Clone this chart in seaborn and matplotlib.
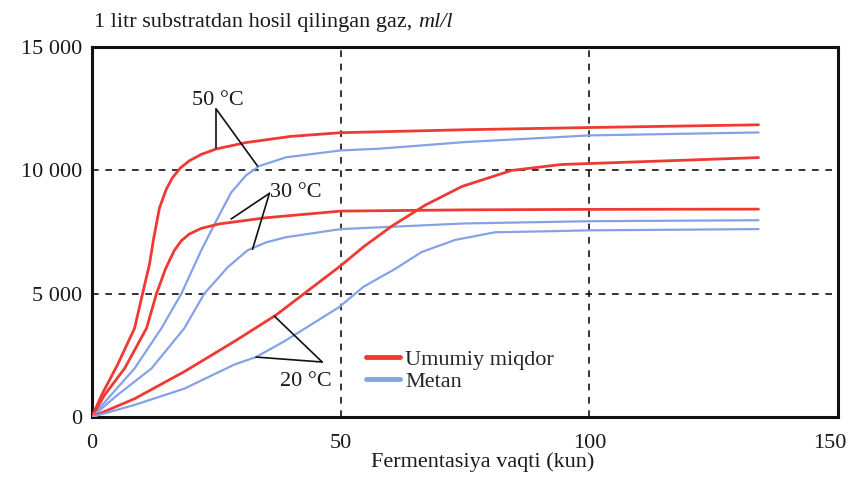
import matplotlib
matplotlib.use("Agg")
import matplotlib.pyplot as plt
from matplotlib.lines import Line2D
from matplotlib.transforms import ScaledTranslation
import seaborn as sns
import pandas as pd

# Gas yield per litre of substrate (ml/l) versus fermentation time (days)
days_50_total = [0, 2, 5.2, 8.6, 10.2, 11.6, 12.4, 13.6, 15, 16.2, 17.8, 19.6, 22, 25, 31, 40, 50, 75, 100, 134]
gas_50_total = [0, 900, 2130, 3600, 5000, 6200, 7200, 8480, 9250, 9700, 10100, 10390, 10650, 10870, 11130, 11380, 11530, 11650, 11740, 11850]

days_50_methane = [0, 3.2, 8.6, 14, 18, 22, 25, 28, 31, 33.7, 39, 50, 57.7, 75, 100, 134]
gas_50_methane = [0, 740, 1970, 3600, 5000, 6760, 7950, 9100, 9800, 10180, 10530, 10810, 10880, 11150, 11420, 11540]

days_30_total = [0, 2.6, 6.6, 11, 13, 14.8, 16.6, 18, 19.6, 22, 25.6, 35, 50, 75, 100, 134]
gas_30_total = [0, 900, 1970, 3600, 5000, 6000, 6760, 7150, 7420, 7650, 7830, 8080, 8350, 8400, 8420, 8430]

days_30_methane = [0, 5.2, 12, 18.6, 22.6, 27.3, 31.3, 35, 39, 50, 75, 100, 134]
gas_30_methane = [0, 900, 1970, 3600, 5000, 6070, 6760, 7080, 7290, 7620, 7850, 7940, 7980]

days_20_total = [0, 8.6, 18.6, 28.7, 37, 50, 54.6, 60.3, 67, 74.4, 84.4, 94.4, 100, 134]
gas_20_total = [0, 740, 1840, 3070, 4130, 6130, 6900, 7740, 8590, 9350, 10000, 10240, 10280, 10520]

days_20_methane = [0, 8.6, 18.6, 28.7, 33, 38.7, 49.6, 54.6, 61, 66.3, 73, 81, 91, 100, 134]
gas_20_methane = [0, 490, 1150, 2130, 2430, 3070, 4440, 5280, 6010, 6690, 7180, 7490, 7530, 7570, 7620]

x_ticks = [0, 50, 100, 150]
y_ticks = [0, 5000, 10000, 15000]
y_tick_labels = ["0", "5 000", "10 000", "15 000"]
legend_labels = ["Umumiy miqdor", "Metan"]

RED = "#ee3a33"
BLUE = "#86a2e6"
INK = "#1a1a1a"
FS = 16

sns.set_theme(style="white")
plt.rcParams["font.family"] = ["Liberation Serif", "DejaVu Serif"]

fig = plt.figure(figsize=(8.5, 4.86), dpi=100)
ax = fig.add_axes([0.108, 0.142, 0.878, 0.761])

series = [
    (days_50_total, gas_50_total, RED, 2.0),
    (days_50_methane, gas_50_methane, BLUE, 1.6),
    (days_30_total, gas_30_total, RED, 2.0),
    (days_30_methane, gas_30_methane, BLUE, 1.6),
    (days_20_total, gas_20_total, RED, 2.0),
    (days_20_methane, gas_20_methane, BLUE, 1.6),
]
for xs, ys, color, lw in series:
    df = pd.DataFrame({"day": xs, "gas": ys})
    sns.lineplot(data=df, x="day", y="gas", ax=ax, color=color, linewidth=lw,
                 sort=False, estimator=None, zorder=3)

ax.set_xlim(0, 150)
ax.set_ylim(0, 15000)
ax.set_xticks(x_ticks)
ax.set_xticklabels([str(t) for t in x_ticks])
ax.set_yticks(y_ticks)
ax.set_yticklabels(y_tick_labels)
ax.tick_params(axis="both", labelsize=FS, colors=INK, length=0)
ax.tick_params(axis="y", pad=7)
ax.tick_params(axis="x", pad=12)

# keep the last x tick label inside the figure
last = ax.get_xticklabels()[-1]
last.set_transform(last.get_transform() + ScaledTranslation(-8 / 100, 0, fig.dpi_scale_trans))

# dashed reference lines
for xv in [50, 100]:
    ax.axvline(xv, color="#111111", linestyle=(0, (4, 4)), linewidth=1.2, zorder=1)
for yv in [5000, 10000]:
    ax.axhline(yv, color="#111111", linestyle=(0, (4, 4)), linewidth=1.2, zorder=1)

for side in ["left", "right", "top", "bottom"]:
    ax.spines[side].set_visible(True)
    ax.spines[side].set_color("#111111")
    ax.spines[side].set_linewidth(2.2)

ax.set_xlabel("Fermentasiya vaqti (kun)", fontsize=FS, color=INK, labelpad=0)
ax.xaxis.set_label_coords(0.524, -0.095)
ax.set_ylabel("")

title = fig.text(0.111, 0.944, "1 litr substratdan hosil qilingan gaz, ", fontsize=FS,
                 color=INK, ha="left", va="baseline")
fig.canvas.draw()
ax.annotate("ml/l", xy=(1, 0), xycoords=title, fontsize=FS, style="italic",
            color=INK, ha="left", va="bottom", annotation_clip=False)

# temperature annotations with pointer lines
ann_kw = dict(color="#111111", linewidth=1.2, zorder=4)
ax.plot([25.0, 25.0], [12490, 10910], **ann_kw)
ax.plot([25.0, 33.3], [12490, 10180], **ann_kw)
ax.text(25.3, 12850, "50 °C", fontsize=FS, ha="center", va="center", color=INK)

ax.plot([35.7, 28.0], [9070, 8030], **ann_kw)
ax.plot([35.7, 32.3], [9070, 6800], **ann_kw)
ax.text(35.8, 9100, "30 °C", fontsize=FS, ha="left", va="center", color=INK)

ax.plot([46.3, 36.7], [2230, 4090], **ann_kw)
ax.plot([46.3, 33.0], [2230, 2430], **ann_kw)
ax.text(43.0, 1450, "20 °C", fontsize=FS, ha="center", va="center", color=INK)

handles = [Line2D([0], [0], color=RED, linewidth=3.5),
           Line2D([0], [0], color=BLUE, linewidth=3.5)]
ax.legend(handles, legend_labels, loc="upper left", bbox_to_anchor=(0.368, 0.183),
          frameon=False, fontsize=FS, handlelength=1.5, handletextpad=0.25,
          labelspacing=0.08, borderaxespad=0, borderpad=0)

fig.savefig("out.png", dpi=100, facecolor="white")
